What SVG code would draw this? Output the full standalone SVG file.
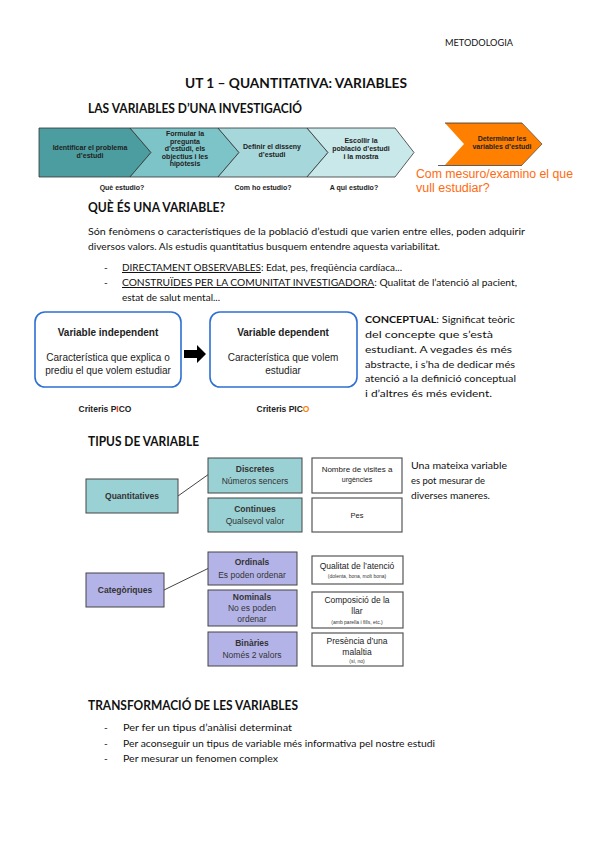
<svg xmlns="http://www.w3.org/2000/svg" width="599" height="848" viewBox="0 0 599 848">
<style>
  .h { font-family: Lato, "Liberation Sans", sans-serif; font-weight: bold; fill: #111; }
  .b { font-family: Lato, "Liberation Sans", sans-serif; font-size: 10px; fill: #111; }
  .a { font-family: "Liberation Sans", Arial, sans-serif; fill: #222; text-anchor: middle; }
  .cv { font-size: 7px; font-weight: bold; }
  .chev { stroke: #333; stroke-width: 0.8; }
  .tb { stroke: #444; stroke-width: 1; }
  .wb { fill: #fff; stroke: #555; stroke-width: 1.2; }
  .rb { fill: #fff; stroke: #2d6fd2; stroke-width: 1.6; }
  .conn { stroke: #444; stroke-width: 1; fill: none; }
  .t1 { font-size: 8.5px; font-weight: bold; fill: #333; }
  .t2 { font-size: 8.5px; fill: #333; }
  .t3 { font-size: 5px; fill: #333; }
</style>
<rect width="599" height="848" fill="#fff"/>

<g id="header">
  <text class="b" x="445" y="46" font-size="8" textLength="68" lengthAdjust="spacingAndGlyphs">METODOLOGIA</text>
  <text class="h" x="185" y="88" font-size="14" textLength="222" lengthAdjust="spacingAndGlyphs">UT 1 – QUANTITATIVA: VARIABLES</text>
  <text class="h" x="88" y="113" font-size="13" textLength="214" lengthAdjust="spacingAndGlyphs">LAS VARIABLES D’UNA INVESTIGACIÓ</text>
</g>

<g id="process">
  <g id="step1">
    <polygon class="chev" fill="#4b9da0" points="39,128 130,128 151,152.5 130,177 39,177"/>
    <text class="a cv" x="90" y="150">Identificar el problema</text>
    <text class="a cv" x="90" y="158">d’estudi</text>
  </g>
  <g id="step2">
    <polygon class="chev" fill="#7dc4c9" points="130,128 218,128 239,152.5 218,177 130,177 151,152.5"/>
    <text class="a cv" x="185" y="136">Formular la</text>
    <text class="a cv" x="185" y="143.5">pregunta</text>
    <text class="a cv" x="185" y="151">d’estudi, els</text>
    <text class="a cv" x="185" y="158.5">objectius i les</text>
    <text class="a cv" x="185" y="166">hipòtesis</text>
  </g>
  <g id="step3">
    <polygon class="chev" fill="#a6d8db" points="218,128 307,128 328,152.5 307,177 218,177 239,152.5"/>
    <text class="a cv" x="272" y="149">Definir el disseny</text>
    <text class="a cv" x="272" y="157">d’estudi</text>
  </g>
  <g id="step4">
    <polygon class="chev" fill="#c9e8ea" points="307,128 395,128 414,152.5 395,177 307,177 328,152.5"/>
    <text class="a cv" x="361" y="143">Escollir la</text>
    <text class="a cv" x="361" y="151">població d’estudi</text>
    <text class="a cv" x="361" y="159">i la mostra</text>
  </g>
  <g id="step5">
    <polygon fill="#ff7f00" points="445,123 522,123 542,144 522,165 445,165 464,144"/>
    <line x1="445" y1="123" x2="522" y2="123" stroke="#333" stroke-width="0.8"/>
    <line x1="438" y1="165.5" x2="522" y2="165.5" stroke="#333" stroke-width="0.8"/>
    <polyline points="522,123 542,144 522,165" fill="none" stroke="#333" stroke-width="0.6"/>
    <text class="a cv" x="502" y="141">Determinar les</text>
    <text class="a cv" x="502" y="149">variables d’estudi</text>
  </g>
  <text class="a cv" x="122" y="190">Què estudio?</text>
  <text class="a cv" x="263" y="190">Com ho estudio?</text>
  <text class="a cv" x="354" y="190">A qui estudio?</text>
  <text font-family="Liberation Sans, Arial, sans-serif" font-size="12.5" fill="#ff6a10" x="416" y="178" textLength="157" lengthAdjust="spacingAndGlyphs">Com mesuro/examino el que</text>
  <text font-family="Liberation Sans, Arial, sans-serif" font-size="12.5" fill="#ff6a10" x="416" y="192">vull estudiar?</text>
</g>

<g id="definition">
  <text class="h" x="88" y="212" font-size="13" textLength="137" lengthAdjust="spacingAndGlyphs">QUÈ ÉS UNA VARIABLE?</text>
  <text class="b" x="88" y="235" textLength="437" lengthAdjust="spacingAndGlyphs">Són fenòmens o característiques de la població d’estudi que varien entre elles, poden adquirir</text>
  <text class="b" x="88" y="250" textLength="352" lengthAdjust="spacingAndGlyphs">diversos valors. Als estudis quantitatius busquem entendre aquesta variabilitat.</text>
  <text class="b" x="104" y="271">-</text>
  <text class="b" x="122" y="271" textLength="280" lengthAdjust="spacingAndGlyphs"><tspan text-decoration="underline">DIRECTAMENT OBSERVABLES</tspan>: Edat, pes, freqüència cardíaca...</text>
  <text class="b" x="104" y="286">-</text>
  <text class="b" x="122" y="286" textLength="395" lengthAdjust="spacingAndGlyphs"><tspan text-decoration="underline">CONSTRUÏDES PER LA COMUNITAT INVESTIGADORA</tspan>: Qualitat de l’atenció al pacient,</text>
  <text class="b" x="122" y="301">estat de salut mental...</text>
</g>

<g id="var-independent">
  <rect class="rb" x="35" y="312" width="146" height="75" rx="10"/>
  <text class="a" x="108" y="336" font-size="10" font-weight="bold">Variable independent</text>
  <text class="a" x="108" y="361" font-size="10">Característica que explica o</text>
  <text class="a" x="108" y="374" font-size="10">prediu el que volem estudiar</text>
  <text class="a" x="105" y="412" font-size="8.5" font-weight="bold">Criteris P<tspan fill="#e0301e">I</tspan>CO</text>
</g>
<g id="connectors">
  <polygon fill="#000" points="184,350 197,350 197,345 206,354 197,363 197,358 184,358"/>
  <line class="conn" x1="178" y1="496" x2="209" y2="474"/>
  <line class="conn" x1="164" y1="590" x2="209" y2="568"/>
</g>
<g id="var-dependent">
  <rect class="rb" x="210" y="312" width="147" height="75" rx="10"/>
  <text class="a" x="283" y="336" font-size="10" font-weight="bold">Variable dependent</text>
  <text class="a" x="283" y="361" font-size="10">Característica que volem</text>
  <text class="a" x="283" y="374" font-size="10">estudiar</text>
  <text class="a" x="283" y="412" font-size="8.5" font-weight="bold">Criteris PIC<tspan fill="#ff8000">O</tspan></text>
</g>

<g id="conceptual">
  <text class="b" x="365" y="323" textLength="150" lengthAdjust="spacingAndGlyphs"><tspan font-weight="bold">CONCEPTUAL</tspan>: Significat teòric</text>
  <text class="b" x="365" y="338" textLength="128" lengthAdjust="spacingAndGlyphs">del concepte que s’està</text>
  <text class="b" x="365" y="353" textLength="147" lengthAdjust="spacingAndGlyphs">estudiant. A vegades és més</text>
  <text class="b" x="365" y="368" textLength="150" lengthAdjust="spacingAndGlyphs">abstracte, i s’ha de dedicar més</text>
  <text class="b" x="365" y="382" textLength="151" lengthAdjust="spacingAndGlyphs">atenció a la definició conceptual</text>
  <text class="b" x="365" y="397" textLength="127" lengthAdjust="spacingAndGlyphs">i d’altres és més evident.</text>
</g>

<g id="tipus">
  <text class="h" x="88" y="446" font-size="13" textLength="111" lengthAdjust="spacingAndGlyphs">TIPUS DE VARIABLE</text>
</g>

<g id="quantitatives">
  <rect class="tb" fill="#9ad1d5" x="86" y="479" width="92" height="34"/>
  <text class="a t1" x="132" y="499">Quantitatives</text>
</g>
<g id="discretes">
  <rect class="tb" fill="#9ad1d5" x="208" y="458" width="94" height="35"/>
  <text class="a t1" x="255" y="472">Discretes</text>
  <text class="a t2" x="255" y="484">Números sencers</text>
</g>
<g id="continues">
  <rect class="tb" fill="#9ad1d5" x="208" y="498" width="94" height="34"/>
  <text class="a t1" x="255" y="512">Continues</text>
  <text class="a t2" x="255" y="524">Qualsevol valor</text>
</g>
<g id="ex-visites">
  <rect class="wb" x="312" y="458" width="90" height="35"/>
  <text class="a" x="357" y="472" font-size="8" fill="#333">Nombre de visites a</text>
  <text class="a" x="357" y="482" font-size="7" fill="#2a4a9a">urgències</text>
</g>
<g id="ex-pes">
  <rect class="wb" x="312" y="498" width="90" height="34"/>
  <text class="a" x="357" y="518" font-size="7.5" fill="#333">Pes</text>
</g>
<g id="note">
  <text class="b" x="411" y="469" textLength="96" lengthAdjust="spacingAndGlyphs">Una mateixa variable</text>
  <text class="b" x="411" y="484" textLength="74" lengthAdjust="spacingAndGlyphs">es pot mesurar de</text>
  <text class="b" x="411" y="499" textLength="79" lengthAdjust="spacingAndGlyphs">diverses maneres.</text>
</g>

<g id="categoriques">
  <rect class="tb" fill="#b3b3e8" x="86" y="573" width="78" height="34"/>
  <text class="a t1" x="125" y="593">Categòriques</text>
</g>
<g id="ordinals">
  <rect class="tb" fill="#b3b3e8" x="208" y="552" width="89" height="33"/>
  <text class="a t1" x="252" y="565">Ordinals</text>
  <text class="a t2" x="252" y="578" font-size="9">Es poden ordenar</text>
</g>
<g id="nominals">
  <rect class="tb" fill="#b3b3e8" x="208" y="590" width="89" height="36"/>
  <text class="a t1" x="252" y="600">Nominals</text>
  <text class="a t2" x="252" y="611" font-size="9">No es poden</text>
  <text class="a t2" x="252" y="622" font-size="9">ordenar</text>
</g>
<g id="binaries">
  <rect class="tb" fill="#b3b3e8" x="208" y="632" width="89" height="34"/>
  <text class="a t1" x="252" y="646">Binàries</text>
  <text class="a t2" x="252" y="658">Només 2 valors</text>
</g>
<g id="ex-qualitat">
  <rect class="wb" x="312" y="556" width="91" height="28"/>
  <text class="a" x="357" y="569" font-size="8.5" fill="#333">Qualitat de l’atenció</text>
  <text class="a t3" x="357" y="578">(dolenta, bona, molt bona)</text>
</g>
<g id="ex-composicio">
  <rect class="wb" x="312" y="592" width="91" height="36"/>
  <text class="a" x="357" y="603" font-size="8.5" fill="#333">Composició de la</text>
  <text class="a" x="357" y="614" font-size="8.5" fill="#333">llar</text>
  <text class="a t3" x="357" y="624">(amb parella i fills, etc.)</text>
</g>
<g id="ex-presencia">
  <rect class="wb" x="312" y="633" width="91" height="33"/>
  <text class="a" x="357" y="644" font-size="8.5" fill="#333">Presència d’una</text>
  <text class="a" x="357" y="655" font-size="8.5" fill="#333">malaltia</text>
  <text class="a t3" x="357" y="663">(sí, no)</text>
</g>

<g id="transformacio">
  <text class="h" x="88" y="710" font-size="13" textLength="210" lengthAdjust="spacingAndGlyphs">TRANSFORMACIÓ DE LES VARIABLES</text>
  <text class="b" x="104" y="731">-</text>
  <text class="b" x="123" y="731" textLength="169" lengthAdjust="spacingAndGlyphs">Per fer un tipus d’anàlisi determinat</text>
  <text class="b" x="104" y="747">-</text>
  <text class="b" x="123" y="747" textLength="312" lengthAdjust="spacingAndGlyphs">Per aconseguir un tipus de variable més informativa pel nostre estudi</text>
  <text class="b" x="104" y="762">-</text>
  <text class="b" x="123" y="762" textLength="155" lengthAdjust="spacingAndGlyphs">Per mesurar un fenomen complex</text>
</g>
</svg>
